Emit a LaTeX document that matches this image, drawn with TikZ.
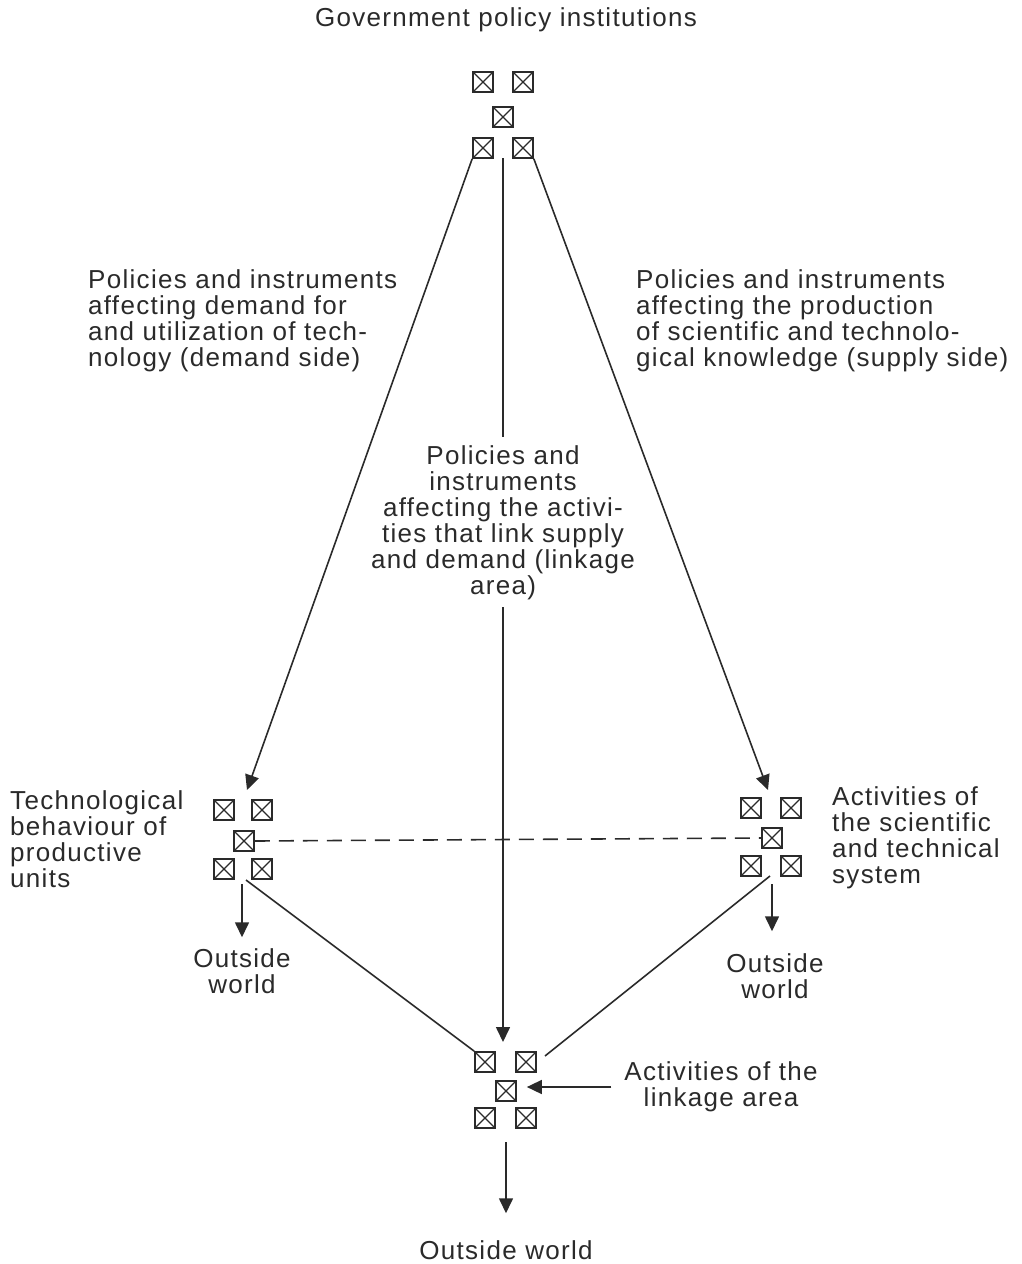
\documentclass[tikz,border=0pt]{standalone}
\usepackage{fontspec}
\setmainfont[LetterSpace=5]{Liberation Sans}
\usetikzlibrary{arrows.meta,calc}
\definecolor{ink}{HTML}{2A2A2A}
\begin{document}
\begin{tikzpicture}[x=1pt,y=-1pt,
  every node/.style={font=\fontsize{26}{26}\selectfont, text=ink},
  xbox/.style={draw=ink, line width=1.7pt, minimum size=20pt, inner sep=0pt,
    path picture={\draw[ink, line width=1.2pt]
      (path picture bounding box.north west) -- (path picture bounding box.south east)
      (path picture bounding box.north east) -- (path picture bounding box.south west);}},
  lbl/.style={inner sep=0pt},
  conn/.style={draw=ink, line width=1.6pt},
  arr/.style={conn, -{Triangle[length=15pt,width=14pt]}}]
\useasboundingbox (0,0) rectangle (1022,1264);
% top cluster
\node[xbox] (tTL) at (483,82) {};
\node[xbox] (tTR) at (523,82) {};
\node[xbox] (tC)  at (503,117) {};
\node[xbox] (tBL) at (483,148) {};
\node[xbox] (tBR) at (523,148) {};
% left cluster
\node[xbox] (lTL) at (224,810) {};
\node[xbox] (lTR) at (262,810) {};
\node[xbox] (lC)  at (244,841) {};
\node[xbox] (lBL) at (224,869) {};
\node[xbox] (lBR) at (262,869) {};
% right cluster
\node[xbox] (rTL) at (751,808) {};
\node[xbox] (rTR) at (791,808) {};
\node[xbox] (rC)  at (772,838) {};
\node[xbox] (rBL) at (751,866) {};
\node[xbox] (rBR) at (791,866) {};
% bottom cluster
\node[xbox] (bTL) at (485,1062) {};
\node[xbox] (bTR) at (526,1062) {};
\node[xbox] (bC)  at (506,1091) {};
\node[xbox] (bBL) at (485,1118) {};
\node[xbox] (bBR) at (526,1118) {};
% texts
\node[lbl] (gov) at (506,20) {Government policy institutions};
\node[lbl, anchor=west, align=left] (dem) at (88,321) {Policies and instruments\\affecting demand for\\and utilization of tech-\\nology (demand side)};
\node[lbl, anchor=west, align=left] (sup) at (636,321) {Policies and instruments\\affecting the production\\of scientific and technolo-\\gical knowledge (supply side)};
\node[lbl, align=center] (lnk) at (503,523) {Policies and\\instruments\\affecting the activi-\\ties that link supply\\and demand (linkage\\area)};
\node[lbl, anchor=west, align=left] (tech) at (10,839) {Technological\\behaviour of\\productive\\units};
\node[lbl, anchor=west, align=left] (sci) at (832,838) {Activities of\\the scientific\\and technical\\system};
\node[lbl, align=center] (lOW) at (242,971) {Outside\\world};
\node[lbl, align=center] (rOW) at (775,976) {Outside\\world};
\node[lbl, align=center] (lka) at (721,1087) {Activities of the\\linkage area};
\node[lbl] (bOW) at (506,1250) {Outside world};
% free ends
\coordinate (lIn) at (247,790);
\coordinate (rIn) at (768,790);
\coordinate (cS) at (503,158);
\coordinate (cIn) at (503,1042);
\coordinate (lo1) at (242,884);
\coordinate (ld1) at (246,880);
\coordinate (ro1) at (772,884);
\coordinate (rd1) at (770,876);
\coordinate (rd2) at (545,1056);
\coordinate (bo1) at (506,1142);
% connectors
\draw[arr] (tBL.south west) -- (lIn);
\draw[arr] (tBR.south east) -- (rIn);
\draw[conn] (cS) -- ([yshift=9pt]lnk.north);
\draw[arr] ([yshift=-7pt]lnk.south) -- (cIn);
\draw[conn, dash pattern=on 15pt off 9pt] (lC.east) -- (rC.west);
\draw[arr, shorten >=11pt] (lo1) -- (lOW.north);
\draw[conn] (ld1) -- (bTL.north west);
\draw[arr, shorten >=22pt] (ro1) -- (ro1 |- rOW.north);
\draw[conn] (rd1) -- (rd2);
\draw[arr, shorten >=23pt] ([xshift=-13pt]lka.west) -- ([xshift=-13pt]lka.west -| bC.east);
\draw[arr, shorten >=27pt] (bo1) -- (bOW.north);
\end{tikzpicture}
\end{document}
